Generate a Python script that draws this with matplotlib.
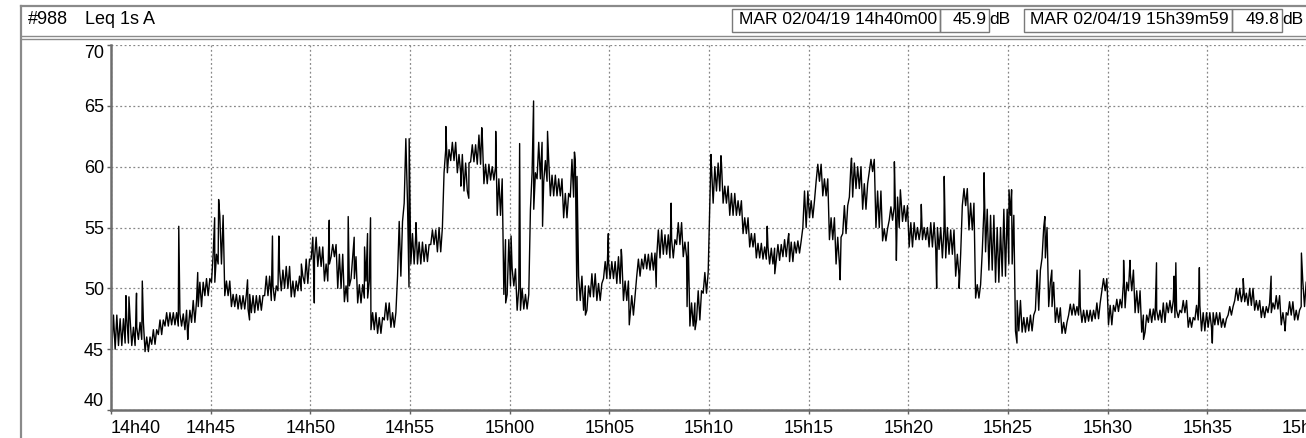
import numpy as np
import matplotlib
matplotlib.use("Agg")
import matplotlib.pyplot as plt
from matplotlib.patches import Rectangle
from matplotlib.lines import Line2D

plt.rcParams['font.family'] = ['Liberation Sans Narrow', 'Liberation Sans', 'DejaVu Sans']

band_lo = [45.0, 45.3, 45.5, 45.3, 45.8, 44.8, 45.4, 46.2, 46.9, 47.0, 46.9, 46.6,
           47.2, 48.5, 49.4, 50.5, 52.0, 49.4, 48.5, 48.3, 48.3, 48.0, 48.2, 49.4,
           49.0, 49.8, 50.0, 49.3, 49.8, 50.4, 52.4, 51.8, 50.6, 52.6, 50.0, 48.9,
           50.8, 48.8, 49.2, 46.6, 46.3, 47.4, 46.8, 51.0, 57.0, 52.0, 52.0, 52.2,
           53.6, 53.0, 59.5, 60.5, 59.5, 58.0, 60.4, 60.2, 58.6, 58.9, 56.0, 49.5,
           50.2, 48.2, 48.3, 56.5, 59.0, 58.8, 57.6, 57.6, 55.8, 57.5, 49.0, 48.2,
           49.3, 49.0, 50.8, 50.8, 50.4, 49.0, 47.8, 51.0, 51.6, 51.5, 52.5, 52.8,
           52.5, 53.6, 52.6, 46.9, 47.4, 49.6, 57.0, 58.0, 57.0, 56.0, 56.0, 54.5,
           53.4, 52.5, 52.4, 52.0, 52.3, 52.6, 52.2, 52.9, 55.0, 55.8, 58.8, 57.6,
           54.0, 52.0, 54.5, 57.5, 58.2, 56.5, 59.6, 55.0, 53.9, 55.6, 55.0, 55.5,
           53.4, 54.0, 54.0, 53.4, 53.2, 52.5, 52.8, 51.0, 56.8, 54.8, 49.2, 53.0,
           51.5, 50.5, 51.0, 52.0, 46.5, 46.4, 46.5, 48.2, 52.5, 48.5, 47.2, 46.3,
           47.8, 47.8, 47.2, 47.3, 47.5, 49.8, 47.0, 48.1, 48.4, 49.8, 48.0, 46.4,
           47.2, 47.4, 47.2, 48.0, 47.6, 48.0, 46.8, 47.4, 46.5, 46.8, 47.0, 46.8,
           47.8, 49.0, 48.9, 48.6, 48.2, 47.6, 48.0, 48.3, 47.0, 47.8, 47.4, 48.5]
band_hi = [47.8, 47.5, 47.5, 46.8, 47.2, 46.0, 46.6, 47.4, 48.0, 48.0, 47.9, 48.2,
           49.0, 50.5, 50.8, 52.8, 56.0, 50.6, 49.5, 49.4, 49.5, 49.4, 49.4, 51.0,
           50.2, 51.5, 51.8, 50.6, 51.0, 52.4, 54.2, 53.4, 52.0, 53.6, 52.8, 50.2,
           52.6, 50.3, 50.6, 48.0, 47.6, 48.8, 48.0, 55.5, 62.3, 54.5, 53.8, 53.6,
           54.8, 55.0, 61.4, 62.0, 61.0, 60.3, 61.8, 62.6, 60.2, 60.0, 59.0, 54.0,
           51.6, 50.0, 49.5, 59.5, 62.0, 60.5, 59.3, 59.0, 57.8, 60.6, 51.0, 50.2,
           51.2, 50.4, 52.2, 52.2, 52.6, 50.6, 49.4, 52.4, 52.8, 52.9, 54.8, 54.4,
           54.0, 55.4, 53.8, 48.8, 49.8, 51.3, 60.0, 60.3, 58.4, 57.8, 57.2, 55.8,
           54.5, 53.7, 53.4, 53.3, 53.6, 54.0, 53.8, 53.9, 58.0, 57.2, 60.2, 59.0,
           55.8, 54.2, 56.8, 60.3, 60.0, 58.6, 60.6, 58.0, 54.9, 56.7, 57.5, 56.8,
           55.4, 55.0, 55.0, 55.4, 55.0, 55.0, 54.8, 52.8, 58.2, 57.0, 50.3, 56.5,
           56.0, 55.0, 56.5, 56.0, 49.0, 47.6, 47.8, 51.5, 55.0, 50.5, 48.4, 47.2,
           48.7, 48.5, 48.2, 48.2, 48.8, 50.8, 48.6, 49.1, 50.5, 51.5, 49.8, 47.8,
           48.3, 48.2, 48.8, 49.0, 48.2, 49.0, 47.6, 48.6, 48.0, 48.0, 48.0, 47.5,
           48.5, 50.0, 49.6, 50.0, 49.0, 48.5, 48.8, 49.4, 48.0, 48.9, 48.2, 50.5]

# short peaks and dips (minutes after 14h40, dB)
spike_t = [0.75, 0.9, 1.28, 1.57, 3.4, 3.85, 4.35, 5.2, 5.4, 6.85, 6.95, 8.1,
           8.42, 9.55, 10.2, 10.95, 11.9, 12.2, 12.72, 12.87, 13.02, 14.95, 15.3,
           16.8, 17.55, 17.95, 18.6, 19.3, 19.8, 20.07, 20.5, 21.2, 21.65, 21.9,
           23.25, 23.38, 23.8, 24.95, 25.6, 26.0, 27.35, 28.1, 28.9, 29.3, 30.1,
           30.6, 32.92, 33.3, 34.0, 36.58, 37.15, 39.3, 39.4, 39.6, 40.65, 41.42,
           41.8, 42.55, 43.8, 45.05, 45.18, 45.45, 46.85, 47.2, 48.6, 50.8, 51.12,
           51.8, 52.45, 53.33, 53.42, 54.6, 55.25, 56.8, 58.2, 58.9, 59.72]
spike_v = [49.4, 49.3, 49.6, 50.6, 55.1, 45.8, 51.3, 55.8, 57.3, 50.7, 47.4, 54.3,
           54.3, 52.0, 48.8, 55.6, 55.9, 54.2, 53.4, 54.5, 55.8, 50.1, 55.4,
           63.3, 58.4, 57.4, 63.2, 62.9, 48.8, 54.3, 61.9, 65.4, 55.1, 62.9,
           61.2, 59.2, 47.8, 54.5, 53.2, 47.0, 50.1, 57.0, 48.5, 46.6, 61.0,
           60.9, 55.1, 51.2, 54.5, 50.7, 60.7, 60.4, 52.3, 58.1, 56.9, 50.0,
           59.2, 50.0, 59.5, 58.1, 58.1, 45.5, 55.9, 51.5, 51.5, 52.3, 52.3,
           45.8, 52.1, 51.0, 52.1, 51.7, 45.5, 50.8, 51.0, 46.5, 52.9]

tick_labels = ['14h40', '14h45', '14h50', '14h55', '15h00', '15h05', '15h10',
               '15h15', '15h20', '15h25', '15h30', '15h35', '15h40']
y_ticks = [40, 45, 50, 55, 60, 65, 70]
header_left = ['#988', 'Leq 1s A']
start_stamp, start_level = 'MAR 02/04/19 14h40m00', '45.9'
end_stamp, end_level = 'MAR 02/04/19 15h39m59', '49.8'

W, H = 1306, 438
fig = plt.figure(figsize=(W / 100, H / 100), dpi=100)
fig.patch.set_facecolor('white')


def fx(x):
    return x / W


def fy(y):
    return 1 - y / H


# axes box in pixel coordinates
ax_l, ax_r, ax_t, ax_b = 111, 1307, 45, 410
ax = fig.add_axes([fx(ax_l), fy(ax_b), fx(ax_r - ax_l), (ax_b - ax_t) / H])

# trace: goes up and down across each bin's band twice, peaks slotted in by time
t = []
v = []
for i in range(len(band_lo)):
    t += [i / 3 + k / 12 + 1 / 24 for k in range(4)]
    v += [band_lo[i], band_hi[i], band_lo[i], band_hi[i]]
t = np.array(t + spike_t)
v = np.array(v + spike_v)
order = np.argsort(t, kind='stable')
ax.plot(t[order], v[order], color='black', lw=1.0)

ax.set_xlim(0, 60)
ax.set_ylim(40, 70)
ax.set_xticks(np.arange(0, 61, 5))
ax.set_xticklabels(tick_labels, fontsize=13)
ax.get_xticklabels()[0].set_horizontalalignment('left')
ax.set_yticks(y_ticks)
ax.set_yticklabels([str(y) for y in y_ticks], fontsize=13)
ax.get_yticklabels()[0].set_verticalalignment('bottom')
ax.get_yticklabels()[-1].set_verticalalignment('top')
ax.tick_params(axis='both', length=3, width=1, color='#606060', pad=2)
ax.tick_params(axis='x', pad=4)
ax.grid(True, color='#888888', linestyle=(0, (1.5, 2)), lw=0.9)
for s in ['top', 'right']:
    ax.spines[s].set_visible(False)
for s in ['left', 'bottom']:
    ax.spines[s].set_color('#6e6e6e')
    ax.spines[s].set_linewidth(1.8)

# header frame
line_c = '#8a8a8a'
fig.add_artist(Line2D([fx(21), fx(21)], [fy(6), fy(438)], color=line_c, lw=1.6))
fig.add_artist(Line2D([fx(21), fx(1306)], [fy(6), fy(6)], color=line_c, lw=1.6))
fig.add_artist(Line2D([fx(21), fx(1306)], [fy(36), fy(36)], color=line_c, lw=1.0))
fig.add_artist(Line2D([fx(21), fx(1306)], [fy(39), fy(39)], color=line_c, lw=1.0))

fig.text(fx(28), fy(19), header_left[0], fontsize=13, va='center', ha='left')
fig.text(fx(85), fy(19), header_left[1], fontsize=13, va='center', ha='left')

box_c = '#7a7a7a'
for x0, x1 in [(732, 940), (940, 989), (1024, 1232), (1232, 1282)]:
    fig.add_artist(Rectangle((fx(x0), fy(32)), fx(x1 - x0), (32 - 9) / H,
                             fill=False, edgecolor=box_c, lw=1.0))
fig.text(fx(937), fy(20), start_stamp, fontsize=12.5, va='center', ha='right')
fig.text(fx(987), fy(20), start_level, fontsize=12.5, va='center', ha='right')
fig.text(fx(989), fy(20), 'dB', fontsize=12.5, va='center', ha='left')
fig.text(fx(1229), fy(20), end_stamp, fontsize=12.5, va='center', ha='right')
fig.text(fx(1280), fy(20), end_level, fontsize=12.5, va='center', ha='right')
fig.text(fx(1282), fy(20), 'dB', fontsize=12.5, va='center', ha='left')

fig.savefig('out.png', dpi=100)
